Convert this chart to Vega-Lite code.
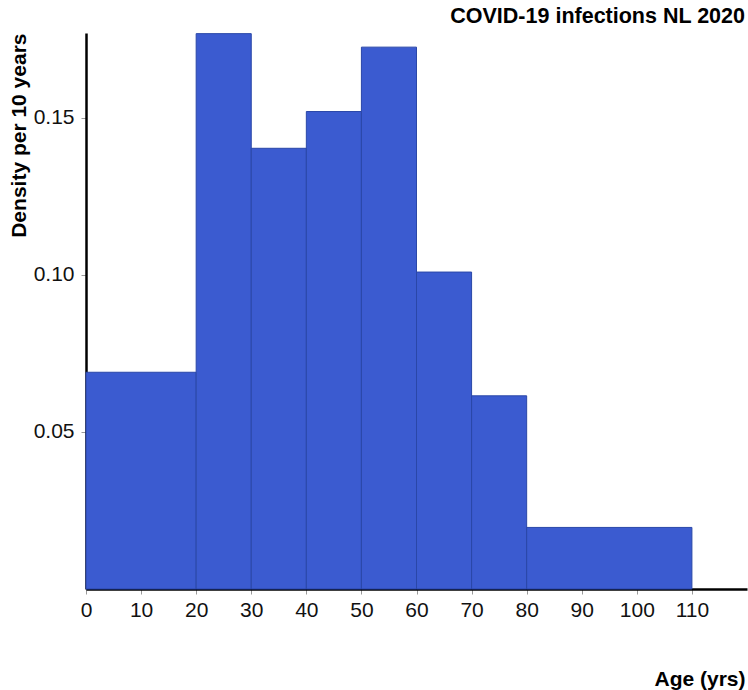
{
  "$schema": "https://vega.github.io/schema/vega-lite/v6.json",
  "autosize": {"type": "none"},
  "width": 661,
  "height": 556,
  "padding": {"left": 86, "top": 33, "right": 1, "bottom": 101},
  "background": "white",
  "config": {
    "view": {"stroke": null},
    "font": "Liberation Sans"
  },
  "title": {
    "text": "COVID-19 infections NL 2020",
    "anchor": "end",
    "frame": "group",
    "font": "Liberation Sans",
    "fontSize": 21.5,
    "fontWeight": "bold",
    "color": "#000000",
    "offset": 6,
    "dx": -2
  },
  "data": {
    "values": [
      {"start": 0, "end": 20, "density": 0.0690},
      {"start": 20, "end": 30, "density": 0.1768},
      {"start": 30, "end": 40, "density": 0.1403},
      {"start": 40, "end": 50, "density": 0.1520},
      {"start": 50, "end": 60, "density": 0.1725},
      {"start": 60, "end": 70, "density": 0.1009},
      {"start": 70, "end": 80, "density": 0.0615},
      {"start": 80, "end": 110, "density": 0.0196}
    ]
  },
  "mark": {"type": "bar", "fill": "#3b5bd0", "stroke": "#2a47a8", "strokeWidth": 1, "cornerRadius": 0},
  "encoding": {
    "x": {
      "field": "start",
      "type": "quantitative",
      "scale": {"domain": [0, 120], "nice": false, "zero": false},
      "axis": {
        "title": "Age (yrs)",
        "values": [0, 10, 20, 30, 40, 50, 60, 70, 80, 90, 100, 110],
        "grid": false,
        "domainColor": "#000000",
        "domainWidth": 2.5,
        "tickColor": "#999999",
        "tickSize": 5,
        "tickWidth": 1,
        "labelFont": "Liberation Sans",
        "labelFontSize": 21,
        "labelColor": "#111111",
        "labelPadding": 5,
        "labelFlush": false,
        "titleFont": "Liberation Sans",
        "titleFontSize": 21,
        "titleFontWeight": "bold",
        "titleColor": "#000000",
        "titleAlign": "right",
        "titleAnchor": null,
        "titleX": 659,
        "titleY": 96,
        "titleBaseline": "alphabetic"
      }
    },
    "x2": {"field": "end"},
    "y": {
      "field": "density",
      "type": "quantitative",
      "scale": {"domain": [0, 0.177], "nice": false},
      "axis": {
        "title": "Density per 10 years",
        "values": [0.05, 0.10, 0.15],
        "format": ".2f",
        "grid": false,
        "domainColor": "#000000",
        "domainWidth": 2.5,
        "tickColor": "#999999",
        "tickSize": 5,
        "tickWidth": 1,
        "labelFont": "Liberation Sans",
        "labelFontSize": 21,
        "labelColor": "#111111",
        "labelPadding": 7,
        "labelFlush": false,
        "titleFont": "Liberation Sans",
        "titleFontSize": 21,
        "titleFontWeight": "bold",
        "titleColor": "#000000",
        "titleAngle": -90,
        "titleAlign": "right",
        "titleAnchor": null,
        "titleX": -61,
        "titleY": 0,
        "titleBaseline": "alphabetic"
      }
    },
    "y2": {"datum": 0}
  }
}
